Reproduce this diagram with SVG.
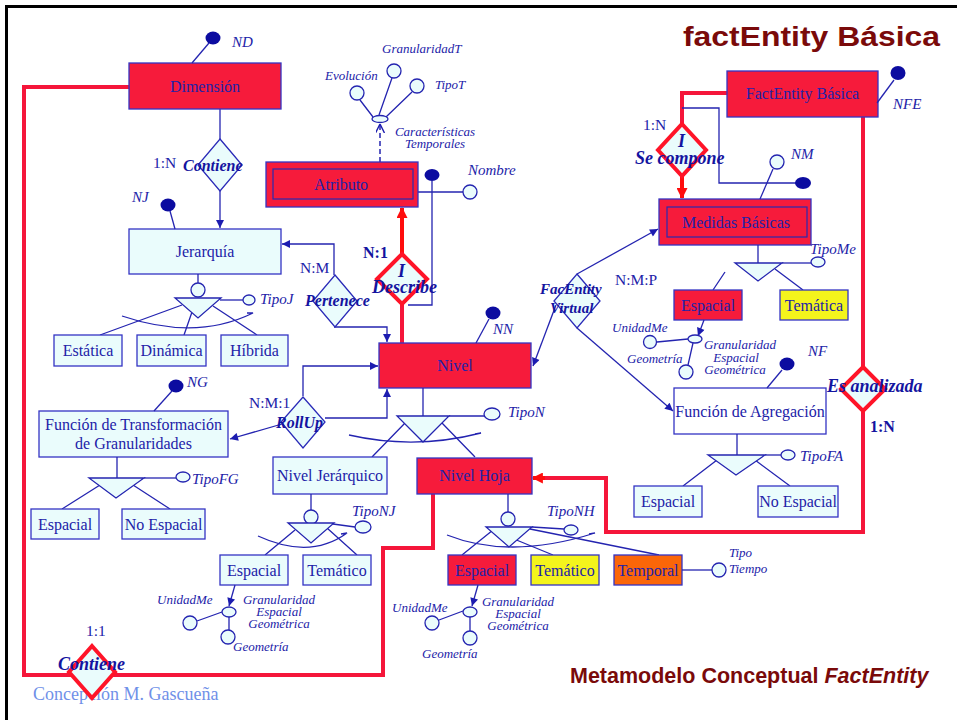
<svg xmlns="http://www.w3.org/2000/svg" width="957" height="720" viewBox="0 0 957 720">
<defs>
<style>
.ent{fill:#f61b3b;stroke:#3434c4;stroke-width:1.3}
.sub{fill:#eafcfc;stroke:#3434c4;stroke-width:1.3}
.yel{fill:#f4f41c;stroke:#3434c4;stroke-width:1.3}
.org{fill:#fb6608;stroke:#3434c4;stroke-width:1.3}
.wht{fill:#ffffff;stroke:#3434c4;stroke-width:1.3}
.inner{fill:none;stroke:#2a2ab0;stroke-width:1.2}
.rel{fill:#eafcfc;stroke:#2a2ab8;stroke-width:1.3}
.relr{fill:#eafcfc;stroke:#ff1428;stroke-width:4}
.ln{fill:none;stroke:#2424b0;stroke-width:1.3}
.dash{fill:none;stroke:#2424b0;stroke-width:1.5;stroke-dasharray:5 3}
.rl{fill:none;stroke:#f5163a;stroke-width:4}
.rla{fill:none;stroke:#ff0d0d;stroke-width:4}
.key{fill:#0c0ca0}
.att{fill:#eafcfc;stroke:#2424b0;stroke-width:1.3}
.tri{fill:#eafcfc;stroke:#2424b0;stroke-width:1.3}
text{font-family:"Liberation Serif","Times New Roman",serif;fill:#2222a8}
.t{font-size:16px;text-anchor:middle}
.k{font-size:15px;font-style:italic}
.s{font-size:13px;font-style:italic}
.sc{font-size:13px;font-style:italic;text-anchor:middle}
.r{font-size:16px;font-style:italic;font-weight:bold;fill:#1414a0}
.rb{font-size:18px;font-style:italic;font-weight:bold;fill:#1414a0}
.c{font-size:15.5px}
.cb{font-size:16px;font-weight:bold;fill:#1414a0}
</style>
<marker id="ab" viewBox="0 0 10 10" refX="10" refY="5" markerWidth="9" markerHeight="8" markerUnits="userSpaceOnUse" orient="auto">
<path d="M0,0 L10,5 L0,10 z" fill="#1c1cb0"/>
</marker>
<marker id="ar" viewBox="0 0 10 10" refX="9" refY="5" markerWidth="12" markerHeight="11" markerUnits="userSpaceOnUse" orient="auto">
<path d="M0,0 L10,5 L0,10 z" fill="#ff0d0d"/>
</marker>
<marker id="ao" viewBox="0 0 10 10" refX="10" refY="5" markerWidth="9" markerHeight="9" markerUnits="userSpaceOnUse" orient="auto">
<path d="M0,0 L10,5 L0,10" fill="none" stroke="#1c1cb0" stroke-width="1.6"/>
</marker>
</defs>

<rect width="957" height="720" fill="#ffffff"/>
<!-- slide frame -->
<path d="M6.5,720 L6.5,6.5 L957,6.5" fill="none" stroke="#000000" stroke-width="3"/>

<!-- titles -->
<text x="683" y="46" style="font-family:'Liberation Sans',Arial,sans-serif;fill:#7a0a0a;font-size:28px;font-weight:bold" textLength="257" lengthAdjust="spacingAndGlyphs">factEntity Básica</text>
<text x="570" y="683" style="font-family:'Liberation Sans',Arial,sans-serif;fill:#7a0a0a;font-size:21.5px;font-weight:bold">Metamodelo Conceptual <tspan font-style="italic">FactEntity</tspan></text>
<text x="33" y="700" style="font-size:18px;fill:#7090e8">Concepción M. Gascueña</text>

<!-- connectors -->
<g id="connectors">
  <!-- thick red links -->
  <path class="rl" d="M129,87 L24,87 L24,675 L383,675 L383,548 L433,548 L433,494"/>
  <path class="rl" d="M863,117 L863,532 L606,532 L606,478 L545,478"/>
  <path class="rla" d="M545,478 L533,478" marker-end="url(#ar)"/>
  <path class="rl" d="M402,343 L402,304"/>
  <path class="rla" d="M402,254 L402,208" marker-end="url(#ar)"/>
  <path class="rl" d="M727,93 L682,93 L682,124"/>
  <path class="rla" d="M682,175 L682,198" marker-end="url(#ar)"/>

  <!-- thin blue links -->
  <path class="ln" d="M220,109 L220,139"/>
  <path class="ln" d="M220,191 L220,228" marker-end="url(#ab)"/>
  <path class="ln" d="M334,275 L334,244 L282,244" marker-end="url(#ab)"/>
  <path class="ln" d="M334,327 L387,327 L387,342" marker-end="url(#ab)"/>
  <path class="ln" d="M303,396 L303,366 L378,366" marker-end="url(#ab)"/>
  <path class="ln" d="M325,418 L387,418 L387,389" marker-end="url(#ab)"/>
  <path class="ln" d="M282,424 L230,439" marker-end="url(#ab)"/>
  <path class="ln" d="M577,274 L658,229" marker-end="url(#ab)"/>
  <path class="ln" d="M556,305 L533,366" marker-end="url(#ab)"/>
  <path class="ln" d="M577,328 L673,411" marker-end="url(#ab)"/>
  <path class="ln" d="M432,181 L432,305 L408,305"/>
  <path class="ln" d="M418,192 L463,192"/>
  <path class="ln" d="M682,108 L719,108 L719,183 L796,183"/>
  <path class="dash" d="M380,162 L380,124" marker-end="url(#ao)"/>
</g>

<!-- Dimensión -->
<g id="dimension">
  <rect class="ent" x="129" y="63" width="152" height="46"/>
  <text class="t" x="205" y="92">Dimensión</text>
  <path class="ln" d="M192,63 L209,43"/>
  <ellipse class="key" cx="213" cy="38" rx="7.5" ry="6.5"/>
  <text class="k" x="232" y="47">ND</text>
</g>

<!-- Contiene 1:N -->
<g id="rel-contiene">
  <polygon class="rel" points="220,139 242,165 220,191 198,165"/>
  <text class="r" x="183" y="171">Contiene</text>
  <text class="c" x="153" y="168">1:N</text>
</g>

<!-- Jerarquía -->
<g id="jerarquia">
  <rect class="sub" x="129" y="229" width="152" height="45"/>
  <text class="t" x="205" y="257">Jerarquía</text>
  <path class="ln" d="M175,229 L170,211"/>
  <ellipse class="key" cx="168" cy="205" rx="7.5" ry="6.5"/>
  <text class="k" x="132" y="202">NJ</text>
  <path class="ln" d="M198,274 L198,283"/>
  <circle class="att" cx="198" cy="290" r="7"/>
  <path class="ln" d="M220,300 L243,300"/>
  <ellipse class="att" cx="249" cy="300" rx="6" ry="5"/>
  <text class="k" x="260" y="304">TipoJ</text>
  <path class="ln" d="M182,305 L100,335 M192,312 L184,335 M213,306 L257,335"/>
  <polygon class="tri" points="175,298 221,298 198,318"/>
  <path class="ln" d="M122,316 Q196,341 253,313 L247,313"/>
</g>
<g id="estatica">
  <rect class="sub" x="54" y="335" width="68" height="31"/>
  <text class="t" x="88" y="356">Estática</text>
</g>
<g id="dinamica">
  <rect class="sub" x="137" y="335" width="69" height="31"/>
  <text class="t" x="171.5" y="356">Dinámica</text>
</g>
<g id="hibrida">
  <rect class="sub" x="221" y="335" width="67" height="31"/>
  <text class="t" x="254.5" y="356">Híbrida</text>
</g>

<!-- Pertenece -->
<g id="rel-pertenece">
  <polygon class="rel" points="335,275 357,301 335,327 313,301"/>
  <text class="r" x="305" y="306">Pertenece</text>
  <text class="c" x="300" y="273">N:M</text>
</g>

<!-- Atributo -->
<g id="atributo">
  <rect class="ent" x="266" y="162" width="152" height="45"/>
  <rect class="inner" x="273" y="169" width="140" height="30"/>
  <text class="t" x="341" y="190">Atributo</text>
  <ellipse class="key" cx="432" cy="175" rx="7.5" ry="6"/>
  <circle class="att" cx="470" cy="192" r="7"/>
  <text class="k" x="468" y="175">Nombre</text>
</g>

<!-- Características temporales -->
<g id="caract-temporales">
  <path class="ln" d="M373,117 L360,100 M379,115 L392,78 M386,117 L412,92"/>
  <ellipse class="att" cx="380" cy="119" rx="8" ry="3.5"/>
  <circle class="att" cx="357" cy="93" r="7"/>
  <circle class="att" cx="394" cy="71" r="7"/>
  <circle class="att" cx="417" cy="86" r="7"/>
  <text class="s" x="325" y="80">Evolución</text>
  <text class="s" x="382" y="53">GranularidadT</text>
  <text class="s" x="435" y="89">TipoT</text>
  <text class="sc"><tspan x="435" y="136">Características</tspan><tspan x="435" y="148">Temporales</tspan></text>
</g>

<!-- Describe -->
<g id="rel-describe">
  <polygon class="relr" points="402,254 427,279 402,304 377,279"/>
  <text class="rb"><tspan x="398" y="277">I</tspan><tspan x="372" y="293">Describe</tspan></text>
  <text class="cb" x="363" y="258">N:1</text>
</g>

<!-- Nivel -->
<g id="nivel">
  <rect class="ent" x="379" y="343" width="152" height="45"/>
  <text class="t" x="455" y="371">Nivel</text>
  <path class="ln" d="M476,343 L489,319"/>
  <ellipse class="key" cx="493" cy="313" rx="7.5" ry="6.5"/>
  <text class="k" x="493" y="334">NN</text>
  <path class="ln" d="M423,388 L423,416"/>
  <path class="ln" d="M449,416 L484,416"/>
  <ellipse class="att" cx="492" cy="414" rx="8" ry="6"/>
  <text class="k" x="508" y="417">TipoN</text>
  <path class="ln" d="M405,423 L372,457 M442,423 L475,457"/>
  <polygon class="tri" points="397,416 449,416 423,442"/>
  <path class="ln" d="M349,435 Q415,450 481,433 L475,434"/>
</g>

<!-- RollUp -->
<g id="rel-rollup">
  <polygon class="rel" points="303,397 325,422 303,448 281,422"/>
  <text class="r" x="276" y="428">RollUp</text>
  <text class="c" x="249" y="408">N:M:1</text>
</g>

<!-- Función de Transformación de Granularidades -->
<g id="funcion-transformacion">
  <rect class="sub" x="39" y="411" width="189" height="46"/>
  <text class="t"><tspan x="133.5" y="430">Función de Transformación</tspan><tspan x="133.5" y="449">de Granularidades</tspan></text>
  <path class="ln" d="M154,411 L172,391"/>
  <ellipse class="key" cx="176" cy="386" rx="7.5" ry="6.5"/>
  <text class="k" x="187" y="387">NG</text>
  <path class="ln" d="M117,457 L117,478"/>
  <path class="ln" d="M144,478 L176,478"/>
  <ellipse class="att" cx="183" cy="477" rx="7" ry="5"/>
  <text class="k" x="192" y="484">TipoFG</text>
  <path class="ln" d="M100,485 L62,509 M133,485 L170,509"/>
  <polygon class="tri" points="89,478 144,478 116,498"/>
</g>
<g id="ft-espacial">
  <rect class="sub" x="31" y="509" width="68" height="30"/>
  <text class="t" x="65" y="530">Espacial</text>
</g>
<g id="ft-no-espacial">
  <rect class="sub" x="122" y="509" width="83" height="30"/>
  <text class="t" x="163.5" y="530">No Espacial</text>
</g>

<!-- Nivel Jerárquico -->
<g id="nivel-jerarquico">
  <rect class="sub" x="273" y="457" width="114" height="37"/>
  <text class="t" x="330" y="481">Nivel Jerárquico</text>
  <path class="ln" d="M311,494 L311,510"/>
  <circle class="att" cx="311" cy="517" r="7"/>
  <path class="ln" d="M333,524 L355,527"/>
  <ellipse class="att" cx="363" cy="527" rx="8" ry="6"/>
  <text class="k" x="352" y="516">TipoNJ</text>
  <path class="ln" d="M295,530 L265,555 M327,528 L357,555"/>
  <polygon class="tri" points="288,523 334,523 311,543"/>
  <path class="ln" d="M258,536 Q310,560 347,533 L341,534"/>
</g>
<g id="nj-espacial">
  <rect class="sub" x="220" y="555" width="68" height="30"/>
  <text class="t" x="254" y="576">Espacial</text>
  <path class="ln" d="M235,585 L229,606" marker-end="url(#ab)"/>
  <path class="ln" d="M197,621 L222,612 M229,617 L229,630"/>
  <ellipse class="att" cx="229" cy="612" rx="7" ry="5"/>
  <circle class="att" cx="190" cy="623" r="7"/>
  <circle class="att" cx="228" cy="637" r="7"/>
  <text class="s" x="157" y="604">UnidadMe</text>
  <text class="s" x="233" y="651">Geometría</text>
  <text class="sc"><tspan x="279" y="604">Granularidad</tspan><tspan x="279" y="616">Espacial</tspan><tspan x="279" y="628">Geométrica</tspan></text>
</g>
<g id="nj-tematico">
  <rect class="sub" x="303" y="555" width="68" height="30"/>
  <text class="t" x="337" y="576">Temático</text>
</g>

<!-- Nivel Hoja -->
<g id="nivel-hoja">
  <rect class="ent" x="417" y="458" width="115" height="36"/>
  <text class="t" x="474.5" y="481">Nivel Hoja</text>
  <path class="ln" d="M508,494 L508,512"/>
  <circle class="att" cx="508" cy="519" r="7"/>
  <path class="ln" d="M532,527 L564,529"/>
  <ellipse class="att" cx="571" cy="530" rx="7" ry="5"/>
  <text class="k" x="547" y="516">TipoNH</text>
  <path class="ln" d="M493,530 L462,555 M514,539 L553,555 M530,529 L659,555"/>
  <polygon class="tri" points="486,527 532,527 509,547"/>
  <path class="ln" d="M447,535 Q510,560 595,533 L589,534"/>
</g>
<g id="nh-espacial">
  <rect class="ent" x="448" y="555" width="68" height="30"/>
  <text class="t" x="482" y="576">Espacial</text>
  <path class="ln" d="M478,585 L472,606" marker-end="url(#ab)"/>
  <path class="ln" d="M439,620 L463,611 M470,617 L470,631"/>
  <ellipse class="att" cx="470" cy="612" rx="7" ry="5"/>
  <circle class="att" cx="432" cy="623" r="7"/>
  <circle class="att" cx="470" cy="638" r="7"/>
  <text class="s" x="392" y="612">UnidadMe</text>
  <text class="s" x="422" y="658">Geometría</text>
  <text class="sc"><tspan x="518" y="606">Granularidad</tspan><tspan x="518" y="618">Espacial</tspan><tspan x="518" y="630">Geométrica</tspan></text>
</g>
<g id="nh-tematico">
  <rect class="yel" x="531" y="555" width="68" height="30"/>
  <text class="t" x="565" y="576">Temático</text>
</g>
<g id="nh-temporal">
  <rect class="org" x="614" y="555" width="68" height="30"/>
  <text class="t" x="648" y="576">Temporal</text>
  <path class="ln" d="M682,570 L712,570"/>
  <circle class="att" cx="719" cy="570" r="7"/>
  <text class="s"><tspan x="729" y="557">Tipo</tspan><tspan x="729" y="573">Tiempo</tspan></text>
</g>

<!-- Contiene 1:1 -->
<g id="rel-contiene-dim">
  <polygon class="relr" points="92,646 115,672 92,698 69,672"/>
  <text class="rb" x="58" y="670">Contiene</text>
  <text class="c" x="86" y="636">1:1</text>
</g>

<!-- FactEntity Básica -->
<g id="factentity-basica">
  <rect class="ent" x="727" y="71" width="151" height="46"/>
  <text class="t" x="802.5" y="99">FactEntity Básica</text>
  <path class="ln" d="M877,103 L894,80"/>
  <ellipse class="key" cx="898" cy="73" rx="7.5" ry="7"/>
  <text class="k" x="893" y="109">NFE</text>
</g>

<!-- Se compone -->
<g id="rel-se-compone">
  <polygon class="relr" points="682,124 706,150 682,176 658,150"/>
  <text class="rb"><tspan x="678" y="147">I</tspan><tspan x="635" y="164">Se compone</tspan></text>
  <text class="c" x="643" y="130">1:N</text>
  <ellipse class="key" cx="803" cy="183" rx="8" ry="6"/>
</g>

<!-- Medidas Básicas -->
<g id="medidas-basicas">
  <rect class="ent" x="659" y="199" width="152" height="46"/>
  <rect class="inner" x="667" y="207" width="140" height="30"/>
  <text class="t" x="736" y="228">Medidas Básicas</text>
  <path class="ln" d="M760,199 L773,169"/>
  <circle class="att" cx="777" cy="162" r="7"/>
  <text class="k" x="791" y="159">NM</text>
  <path class="ln" d="M758,245 L758,263"/>
  <path class="ln" d="M782,263 L811,263"/>
  <ellipse class="att" cx="818" cy="262" rx="7" ry="5"/>
  <text class="k" x="810" y="254">TipoMe</text>
  <path class="ln" d="M725,272 L713,290 M775,269 L803,290"/>
  <polygon class="tri" points="735,263 782,263 758,281"/>
</g>
<g id="med-espacial">
  <rect class="ent" x="674" y="290" width="68" height="30"/>
  <text class="t" x="708" y="311">Espacial</text>
  <path class="ln" d="M704,320 L698,336" marker-end="url(#ab)"/>
  <path class="ln" d="M657,342 L688,339 M693,343 L688,365"/>
  <ellipse class="att" cx="695" cy="339" rx="7" ry="4"/>
  <circle class="att" cx="650" cy="342" r="6.5"/>
  <circle class="att" cx="686" cy="372" r="7"/>
  <text class="s" x="612" y="332">UnidadMe</text>
  <text class="s" x="627" y="363">Geometría</text>
  <text class="sc"><tspan x="740" y="349">Granularidad</tspan><tspan x="736" y="362">Espacial</tspan><tspan x="735" y="374">Geométrica</tspan></text>
</g>
<g id="med-tematica">
  <rect class="yel" x="780" y="290" width="68" height="30"/>
  <text class="t" x="814" y="311">Temática</text>
</g>

<!-- FacEntity Virtual -->
<g id="rel-factentity-virtual">
  <polygon class="rel" points="577,274 600,301 577,328 554,301"/>
  <text class="r" style="font-size:15px"><tspan x="540" y="294">FacEntity</tspan><tspan x="550" y="313">Virtual</tspan></text>
  <text class="c" x="615" y="285">N:M:P</text>
</g>

<!-- Función de Agregación -->
<g id="funcion-agregacion">
  <rect class="wht" x="674" y="388" width="152" height="46"/>
  <text class="t" x="750" y="417">Función de Agregación</text>
  <path class="ln" d="M767,388 L782,370"/>
  <ellipse class="key" cx="787" cy="364" rx="7.5" ry="6.5"/>
  <text class="k" x="808" y="356">NF</text>
  <path class="ln" d="M737,434 L737,455"/>
  <path class="ln" d="M765,455 L781,455"/>
  <ellipse class="att" cx="788" cy="455" rx="7" ry="5"/>
  <text class="k" x="800" y="461">TipoFA</text>
  <path class="ln" d="M717,460 L683,486 M755,460 L790,486"/>
  <polygon class="tri" points="708,455 765,455 736,475"/>
</g>
<g id="fa-espacial">
  <rect class="sub" x="634" y="486" width="68" height="31"/>
  <text class="t" x="668" y="507">Espacial</text>
</g>
<g id="fa-no-espacial">
  <rect class="sub" x="758" y="486" width="80" height="31"/>
  <text class="t" x="798" y="507">No Espacial</text>
</g>

<!-- Es analizada -->
<g id="rel-es-analizada">
  <polygon class="relr" points="863,367 885,389 863,411 841,389"/>
  <text class="rb" x="827" y="392">Es analizada</text>
  <text class="cb" x="870" y="432">1:N</text>
</g>
</svg>
